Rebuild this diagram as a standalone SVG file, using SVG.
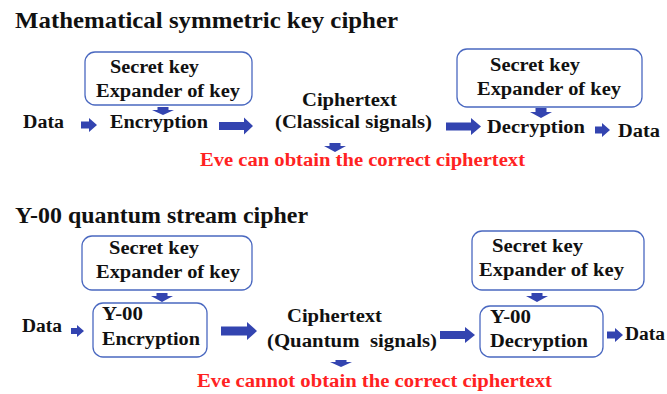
<svg xmlns="http://www.w3.org/2000/svg" width="667" height="394" viewBox="0 0 667 394" font-family="Liberation Serif, serif" font-weight="bold">
<style>
.t{font-size:23px;font-family:'Liberation Serif',serif;font-weight:700;fill:#111}
.l{font-size:18.5px;font-family:'Liberation Serif',serif;font-weight:700;fill:#111}
.r{font-size:18.5px;font-family:'Liberation Serif',serif;font-weight:700;fill:#ff2222}
.box{fill:#fff;stroke:#4a68c0;stroke-width:1.3}
.arr{fill:#3344b0}
</style>
<rect width="667" height="394" fill="#fff"/>
<text class="t" x="15" y="28" textLength="383" lengthAdjust="spacingAndGlyphs">Mathematical symmetric key cipher</text>
<text class="t" x="15" y="223" textLength="293" lengthAdjust="spacingAndGlyphs">Y-00 quantum stream cipher</text>

<g id="key1">
<rect class="box" x="85" y="52" width="167" height="53" rx="10"/>
<text class="l" x="110" y="73" textLength="89" lengthAdjust="spacingAndGlyphs">Secret key</text>
<text class="l" x="96" y="97" textLength="144" lengthAdjust="spacingAndGlyphs">Expander of key</text>
</g>
<g id="data1"><text class="l" x="23" y="128" textLength="41" lengthAdjust="spacingAndGlyphs">Data</text></g>
<g id="enc1"><text class="l" x="110" y="128" textLength="98" lengthAdjust="spacingAndGlyphs">Encryption</text></g>
<g id="cipher1">
<text class="l" x="302" y="106" textLength="95" lengthAdjust="spacingAndGlyphs">Ciphertext</text>
<text class="l" x="275" y="128" textLength="157" lengthAdjust="spacingAndGlyphs">(Classical signals)</text>
</g>
<g id="eve1"><text class="r" x="200" y="166" textLength="325" lengthAdjust="spacingAndGlyphs">Eve can obtain the correct ciphertext</text></g>
<g id="key2">
<rect class="box" x="457" y="49" width="185" height="58" rx="10"/>
<text class="l" x="490" y="71" textLength="90" lengthAdjust="spacingAndGlyphs">Secret key</text>
<text class="l" x="477" y="95" textLength="144" lengthAdjust="spacingAndGlyphs">Expander of key</text>
</g>
<g id="dec1"><text class="l" x="487" y="133" textLength="98" lengthAdjust="spacingAndGlyphs">Decryption</text></g>
<g id="data2"><text class="l" x="618" y="137" textLength="42" lengthAdjust="spacingAndGlyphs">Data</text></g>

<g id="key3">
<rect class="box" x="82" y="236" width="170" height="54" rx="10"/>
<text class="l" x="109" y="254" textLength="90" lengthAdjust="spacingAndGlyphs">Secret key</text>
<text class="l" x="96" y="278" textLength="144" lengthAdjust="spacingAndGlyphs">Expander of key</text>
</g>
<g id="enc2">
<rect class="box" x="93" y="303" width="114" height="54" rx="10"/>
<text class="l" x="102" y="320" textLength="41" lengthAdjust="spacingAndGlyphs">Y-00</text>
<text class="l" x="102" y="345" textLength="98" lengthAdjust="spacingAndGlyphs">Encryption</text>
</g>
<g id="data3"><text class="l" x="22" y="332" textLength="40" lengthAdjust="spacingAndGlyphs">Data</text></g>
<g id="cipher2">
<text class="l" x="287" y="322" textLength="95" lengthAdjust="spacingAndGlyphs">Ciphertext</text>
<text class="l" x="267" y="347" textLength="170" lengthAdjust="spacingAndGlyphs" xml:space="preserve">(Quantum  signals)</text>
</g>
<g id="eve2"><text class="r" x="197" y="387" textLength="355" lengthAdjust="spacingAndGlyphs">Eve cannot obtain the correct ciphertext</text></g>
<g id="key4">
<rect class="box" x="472" y="231" width="172" height="59" rx="10"/>
<text class="l" x="492" y="252" textLength="91" lengthAdjust="spacingAndGlyphs">Secret key</text>
<text class="l" x="479" y="276" textLength="145" lengthAdjust="spacingAndGlyphs">Expander of key</text>
</g>
<g id="dec2">
<rect class="box" x="480" y="306" width="123" height="51" rx="10"/>
<text class="l" x="490" y="323" textLength="41" lengthAdjust="spacingAndGlyphs">Y-00</text>
<text class="l" x="490" y="347" textLength="98" lengthAdjust="spacingAndGlyphs">Decryption</text>
</g>
<g id="data4"><text class="l" x="625" y="340" textLength="40" lengthAdjust="spacingAndGlyphs">Data</text></g>

<g id="connectors" class="arr">
<path d="M157.5,107 H168.5 V110 H174 L163,115 L152,110 H157.5 Z"/>
<path d="M329.5,143 H340.5 V146 H346 L335,152 L324,146 H329.5 Z"/>
<path d="M535.5,108 H546.5 V112 H552 L541,118 L530,112 H535.5 Z"/>
<path d="M156.5,293 H167.5 V296 H173 L162,302 L151,296 H156.5 Z"/>
<path d="M335.5,360 H346.5 V362 H352 L341,367 L330,362 H335.5 Z"/>
<path d="M531.5,293 H542.5 V296 H548 L537,302 L526,296 H531.5 Z"/>
<path d="M81,121.5 H89 V118 L97,125 L89,132 V128.5 H81 Z"/>
<path d="M219,122 H244 V117.5 L253,126 L244,134.5 V130 H219 Z"/>
<path d="M446,122.5 H471 V118 L481,126.5 L471,135 V130.5 H446 Z"/>
<path d="M595,126.5 H602 V123 L610,130 L602,137 V133.5 H595 Z"/>
<path d="M71,328 H77 V325 L84,331 L77,337 V334 H71 Z"/>
<path d="M221,326.5 H247 V322 L257,331 L247,340 V335.5 H221 Z"/>
<path d="M440,331 H465 V327 L475,335 L465,343 V339 H440 Z"/>
<path d="M607,331.5 H615 V328 L623,335 L615,342 V338.5 H607 Z"/>
</g>
</svg>
